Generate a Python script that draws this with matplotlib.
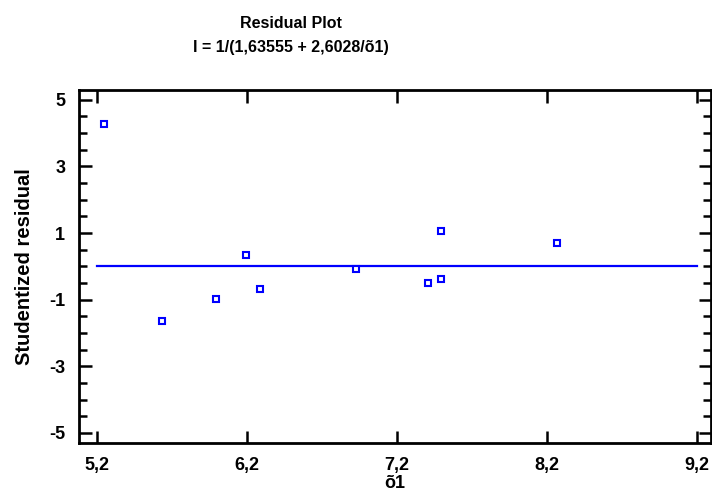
import numpy as np
import matplotlib.pyplot as plt
from matplotlib.ticker import MultipleLocator

plt.rcParams['font.family'] = ['Liberation Sans', 'DejaVu Sans']
plt.rcParams['font.weight'] = 'bold'
plt.rcParams['axes.unicode_minus'] = False

# datos
x_obs = [5.247, 5.634, 5.993, 6.193, 6.288, 6.927, 7.408, 7.490, 7.490, 8.263]
resid = [4.27, -1.65, -0.98, 0.35, -0.68, -0.07, -0.50, -0.38, 1.07, 0.71]
x_ticks = [5.2, 6.2, 7.2, 8.2, 9.2]
y_ticks = [5, 3, 1, -1, -3, -5]

fig = plt.figure(figsize=(7.12, 4.96), dpi=100)
ax = fig.add_axes([0.111, 0.107, 0.887, 0.712])

ax.plot([5.2, 9.2], [0, 0], color='#0000ff', lw=1.6)
ax.plot(x_obs, resid, 's', ms=4, mfc='white', mec='#0000ff', mew=1.5)

ax.set_xlim(5.08, 9.29)
ax.set_ylim(-5.3, 5.3)
ax.set_xticks(x_ticks)
ax.set_xticklabels([str(v).replace('.', ',') for v in x_ticks])
ax.set_yticks(y_ticks)
ax.yaxis.set_minor_locator(MultipleLocator(0.5))
ax.tick_params(axis='both', which='major', direction='in', length=9, width=1.8,
               labelsize=13, top=True, right=True)
ax.tick_params(axis='x', which='major', pad=10)
ax.tick_params(axis='y', which='major', pad=10)
ax.tick_params(axis='y', which='minor', direction='in', length=6, width=1.8, right=True)
for s in ax.spines.values():
    s.set_linewidth(2)

ax.set_xlabel('õ1', fontsize=13, fontweight='bold', labelpad=1)
ax.set_ylabel('Studentized residual', fontsize=14.5, fontweight='bold', va='center')
ax.yaxis.set_label_coords(-0.087, 0.5)

fig.text(0.409, 0.953, 'Residual Plot', ha='center', va='center', fontsize=11.5,
         fontweight='bold')
fig.text(0.409, 0.905, 'I = 1/(1,63555 + 2,6028/õ1)', ha='center', va='center',
         fontsize=11.5, fontweight='bold')

fig.savefig('out.png', dpi=100)
